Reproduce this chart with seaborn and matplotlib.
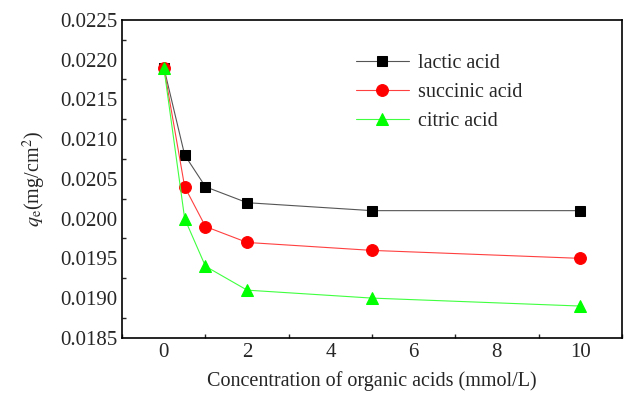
import pandas as pd
import numpy as np
import seaborn as sns
import matplotlib
matplotlib.use('Agg')
import matplotlib.pyplot as plt
from matplotlib.ticker import MultipleLocator

# data
conc = [0, 0.5, 1, 2, 5, 10]
lactic = [0.0219, 0.0208, 0.0204, 0.0202, 0.0201, 0.0201]
succinic = [0.0219, 0.0204, 0.0199, 0.0197, 0.0196, 0.0195]
citric = [0.0219, 0.0200, 0.0194, 0.0191, 0.0190, 0.0189]
names = ['lactic acid', 'succinic acid', 'citric acid']

df = pd.DataFrame({
    'conc': conc * 3,
    'qe': lactic + succinic + citric,
    'acid': [n for n in names for _ in conc],
})

sns.set_style('white')
plt.rcParams['font.family'] = ['Liberation Serif', 'DejaVu Serif']
plt.rcParams['mathtext.fontset'] = 'stix'

fig = plt.figure(figsize=(6.3, 3.97), dpi=100)
ax = fig.add_axes([0.194, 0.149, 0.793, 0.801])

line_colors = {'lactic acid': '#555555', 'succinic acid': '#ff4040', 'citric acid': '#40ff40'}
mark_colors = {'lactic acid': 'black', 'succinic acid': 'red', 'citric acid': '#00ff00'}
markers = {'lactic acid': 's', 'succinic acid': 'o', 'citric acid': '^'}
msize = {'lactic acid': 7.5, 'succinic acid': 8.5, 'citric acid': 9}

for n in names:
    sub = df[df['acid'] == n]
    sns.lineplot(data=sub, x='conc', y='qe', ax=ax, color=line_colors[n], lw=0.8,
                 marker=markers[n], markersize=msize[n], markerfacecolor=mark_colors[n],
                 markeredgecolor=mark_colors[n], label=n)

ax.set_xlim(-1, 11)
ax.set_ylim(0.0185, 0.0225)
ax.xaxis.set_major_locator(MultipleLocator(2))
ax.xaxis.set_minor_locator(MultipleLocator(1))
ax.yaxis.set_major_locator(MultipleLocator(0.0005))
ax.yaxis.set_minor_locator(MultipleLocator(0.00025))
ax.yaxis.set_major_formatter(matplotlib.ticker.FormatStrFormatter('%.4f'))
ax.tick_params(which='both', direction='in', top=False, right=False, labelsize=15)
ax.tick_params(which='major', length=6, width=1)
ax.tick_params(which='minor', length=3, width=1, bottom=True, left=True)
for s in ax.spines.values():
    s.set_linewidth(1.2)
    s.set_color('black')

ax.set_xlabel('Concentration of organic acids (mmol/L)', fontsize=14.5, labelpad=7)
ax.set_ylabel(r'$q_{\mathrm{e}}$(mg/cm$^{2}$)', fontsize=14.5, labelpad=9)

ax.legend(loc='upper left', bbox_to_anchor=(0.432, 0.95), frameon=False, fontsize=14.5,
          handlelength=2.6, labelspacing=0.5, handletextpad=0.45)

fig.savefig('out.png', dpi=100)
